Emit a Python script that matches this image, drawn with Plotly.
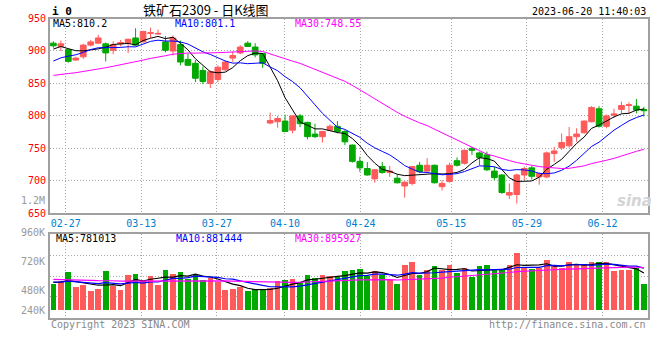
import pandas as pd
import plotly.graph_objects as go

# ---------------- data ----------------
open_ = [912, 907, 902, 886, 891, 909, 912, 911, 901, 911,
         912, 920, 914, 927, 926, 914, 900, 910, 887, 881,
         870, 850, 856, 871, 889, 897, 912, 906, 896, 789,
         791, 792, 778, 800, 790, 772, 768, 778, 784, 776,
         755, 730, 719, 703, 722, 713, 704, 692, 696, 724,
         715, 724, 691, 699, 731, 727, 750, 743, 740, 715,
         709, 678, 679, 709, 720, 706, 706, 742, 751, 754,
         768, 774, 791, 811, 784, 801, 810, 816, 815, 810]
high = [915, 916, 904, 891, 911, 917, 925, 913, 915, 917,
        919, 935, 931, 936, 933, 923, 924, 916, 896, 886,
        876, 870, 878, 885, 899, 909, 915, 912, 897, 805,
        800, 802, 801, 803, 791, 788, 777, 787, 792, 778,
        756, 737, 729, 718, 729, 723, 710, 699, 723, 729,
        735, 725, 701, 728, 736, 748, 752, 745, 745, 722,
        710, 696, 711, 722, 723, 713, 745, 752, 773, 783,
        781, 793, 815, 815, 802, 811, 822, 821, 826, 814]
low = [905, 900, 882, 885, 888, 907, 911, 884, 895, 907,
       897, 908, 913, 920, 925, 898, 893, 878, 877, 852,
       849, 843, 852, 869, 883, 895, 906, 890, 874, 787,
       782, 775, 773, 783, 764, 766, 759, 777, 773, 755,
       728, 714, 708, 697, 711, 706, 696, 674, 693, 712,
       712, 696, 685, 697, 722, 725, 740, 724, 715, 701,
       680, 672, 665, 701, 702, 694, 704, 729, 748, 751,
       760, 773, 790, 782, 781, 797, 804, 803, 804, 799]
close = [908, 911, 884, 889, 909, 914, 920, 897, 910, 913,
         918, 909, 930, 928, 927, 901, 920, 883, 878, 858,
         853, 868, 875, 883, 893, 906, 907, 894, 881, 793,
         796, 776, 800, 788, 768, 768, 776, 784, 776, 760,
         730, 720, 709, 717, 713, 715, 697, 698, 722, 714,
         724, 697, 696, 724, 724, 747, 747, 736, 717, 705,
         682, 682, 709, 719, 707, 711, 743, 746, 759, 768,
         772, 792, 813, 784, 800, 803, 816, 817, 809, 808]
volume_k = [557, 605, 792, 480, 536, 396, 452, 813, 515, 432,
            730, 765, 640, 709, 536, 849, 765, 792, 661, 744,
            640, 676, 584, 417, 452, 488, 396, 452, 417, 467,
            605, 626, 661, 571, 744, 676, 744, 723, 696, 813,
            834, 869, 709, 813, 744, 640, 557, 938, 1001, 744,
            834, 932, 834, 938, 780, 890, 696, 917, 953, 834,
            869, 938, 1197, 884, 863, 890, 1057, 953, 876, 1001,
            938, 974, 1015, 1015, 1001, 813, 834, 834, 884, 557]
# earlier sessions (off the chart), estimated from where the MA lines start
pre_close = [850, 858, 852, 860, 855, 852, 845, 840, 848, 852,
             845, 842, 850, 848, 855, 850, 852, 855, 860, 858,
             862, 858, 868, 872, 870, 892, 900, 905, 910]
pre_volume_k = [700, 680, 720, 650, 690, 710, 660, 700, 680, 690,
                686, 690, 660, 700, 650, 680, 700, 670, 690, 664,
                620, 580, 610, 600, 610, 590, 610, 600, 603]

# header readouts as printed on the chart
price_ma_header = ["MA5:810.2", "MA10:801.1", "MA30:748.55"]
volume_ma_header = ["MA5:781013", "MA10:881444", "MA30:895927"]

holidays = ["2023-04-05", "2023-05-01", "2023-05-02", "2023-05-03"]
dates = [d for d in pd.bdate_range("2023-02-23", "2023-06-20")
         if d.strftime("%Y-%m-%d") not in holidays]
date_labels = [d.strftime("%m-%d") for d in dates]
tick_dates = ["02-27", "03-13", "03-27", "04-10", "04-24", "05-15", "05-29", "06-12"]
price_ticks = [650, 700, 750, 800, 850, 900, 950]
vol_tick_labels = ["1.2M", "960K", "720K", "480K", "240K"]

title_text = "铁矿石2309 - 日K线图"
stamp = "2023-06-20 11:40:03"

# ---------------- styling ----------------
RED = "#ff5a5a"
GREEN = "#00a800"
GRID = "#a8a8a8"
BORDER = "#a0a0a0"
MONO = "DejaVu Sans Mono"
MA_COLORS = ["#000000", "#0000ff", "#ff00ff"]
W, H = 660, 360
ML, MR, MT, MB = 50, 10, 18, 42
PW, PH = W - ML - MR, H - MT - MB

n = len(close)
x = list(range(n))


def ma(series, pre, w):
    s = pd.Series(list(pre) + list(series), dtype=float)
    return s.rolling(w).mean().iloc[len(pre):].tolist()


up = [c >= o for o, c in zip(open_, close)]
bar_colors = [RED if u else GREEN for u in up]

# Sina's date grid runs slightly wider than its candle spacing
grid_step = 7.586 / 7.5
tick_pos = [1.65 + (date_labels.index(t) - 2) * grid_step for t in tick_dates]

fig = go.Figure()
fig.add_trace(go.Candlestick(
    x=x, open=open_, high=high, low=low, close=close,
    increasing=dict(line=dict(color=RED, width=1), fillcolor=RED),
    decreasing=dict(line=dict(color=GREEN, width=1), fillcolor=GREEN),
    whiskerwidth=0, xaxis="x", yaxis="y", hoverinfo="skip"))
for w, col in zip((5, 10, 30), MA_COLORS):
    fig.add_trace(go.Scatter(x=x, y=ma(close, pre_close, w), mode="lines",
                             line=dict(color=col, width=1), xaxis="x", yaxis="y",
                             hoverinfo="skip"))

fig.add_trace(go.Bar(x=x, y=volume_k, marker=dict(color=bar_colors, line=dict(width=0)),
                     width=0.76, xaxis="x2", yaxis="y2", hoverinfo="skip"))
for w, col in zip((5, 10, 30), MA_COLORS):
    fig.add_trace(go.Scatter(x=x, y=ma(volume_k, pre_volume_k, w), mode="lines",
                             line=dict(color=col, width=1.2), xaxis="x2", yaxis="y2",
                             hoverinfo="skip"))


def py2paper(py):
    return (H - MB - py) / PH


def px2paper(px):
    return (px - ML) / PW


xr = [-0.45, 79.55]
vol_lo, vol_hi = -146, 1593
grid_common = dict(showgrid=True, gridcolor=GRID, gridwidth=1, griddash="1px,2px",
                   showline=True, linecolor=BORDER, linewidth=2, mirror=True,
                   zeroline=False, ticks="")

fig.update_layout(
    width=W, height=H, margin=dict(l=ML, r=MR, t=MT, b=MB),
    paper_bgcolor="white", plot_bgcolor="white", showlegend=False,
    boxgap=0.24, boxgroupgap=0, bargap=0,
    xaxis=dict(domain=[0, 1], anchor="y", range=xr, tickmode="array",
               tickvals=tick_pos, ticktext=tick_dates,
               tickfont=dict(family=MONO, size=10, color="#0080d0"),
               rangeslider=dict(visible=False), **grid_common),
    yaxis=dict(domain=[py2paper(213.3), py2paper(18.5)], anchor="x", range=[650, 950],
               tickmode="array", tickvals=price_ticks,
               ticktext=[str(v) for v in price_ticks],
               tickfont=dict(family=MONO, size=10, color="#ff0000"), **grid_common),
    xaxis2=dict(domain=[0, 1], anchor="y2", range=xr, matches="x", tickmode="array",
                tickvals=tick_pos, showticklabels=False, **grid_common),
    yaxis2=dict(domain=[py2paper(317.7), py2paper(234.3)], anchor="x2",
                range=[vol_lo, vol_hi], tickmode="array",
                tickvals=[vol_lo + k * (vol_hi - vol_lo) / 4 for k in (1, 2, 3)],
                showticklabels=False, **grid_common),
)

anns = []


def ann(text, px, py, xanchor="left", color="#000", size=10, family=MONO, **kw):
    anns.append(dict(text=text, x=px2paper(px), y=py2paper(py), xref="paper", yref="paper",
                     xanchor=xanchor, yanchor="middle", showarrow=False,
                     font=dict(family=family, size=size, color=color), **kw))


ann("<b>i 0</b>", 50, 11.5, size=11)
ann(title_text, 207, 9.5, xanchor="center", size=13, family="Noto Sans CJK SC")
ann(stamp, 650, 11.7, xanchor="right", size=10)
for txt, px, col in zip(price_ma_header, (51, 173, 294), MA_COLORS):
    ann(txt, px, 23, color=col)
for txt, px, col in zip(volume_ma_header, (54, 174, 294), MA_COLORS):
    ann(txt, px, 238.3, color=col)
for lab, yy in zip(vol_tick_labels, [200, 232, 261, 290, 310]):
    ann(lab, 47, yy, xanchor="right", color="#999999")
ann("Copyright 2023 SINA.COM", 49, 324, color="#888888")
ann("http://finance.sina.com.cn", 650, 324, xanchor="right", color="#888888")
ann("<b><i>sina</i></b>", 636, 201, xanchor="center", color="#d4d4d4", size=15,
    family="DejaVu Sans")

fig.update_layout(annotations=anns)
fig.write_html("out.html", config={"displayModeBar": False},
               post_script="document.body.style.margin='0';document.body.style.overflow='hidden';")
